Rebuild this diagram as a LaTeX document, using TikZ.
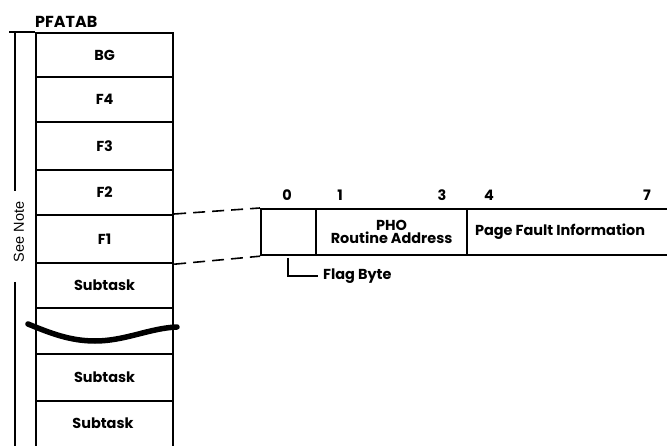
\documentclass[tikz,border=0pt]{standalone}
\usepackage{fontspec}
\setmainfont{Poppins}
\newfontfamily\notefont{Liberation Sans}
\begin{document}
\begin{tikzpicture}[x=1bp,y=-1bp,
  ln/.style={line width=2.2bp},
  tf/.style={font=\fontsize{14.5}{14}\selectfont\bfseries},
  row/.style={draw, line width=2.2bp, minimum width=137bp, inner sep=0pt, tf, anchor=north west},
  fld/.style={draw, line width=2.2bp, inner sep=0pt, anchor=north west, minimum height=46bp, tf, align=center},
  lbl/.style={tf, inner sep=0pt}]
\useasboundingbox (0,0) rectangle (667,446);
\clip (0,0) rectangle (667,446);
\fill[white] (0,0) rectangle (667,446);
% table rows
\node[row, minimum height=44bp] (bg) at (35,32) {BG};
\node[row, minimum height=45bp] (f4) at (35,76) {F4};
\node[row, minimum height=48bp] (f3) at (35,121) {F3};
\node[row, minimum height=45bp] (f2) at (35,169) {F2};
\node[row, minimum height=48bp] (f1) at (35,214) {F1};
\node[row, minimum height=45bp] (s1) at (35,262) {Subtask};
\node[row, minimum height=46bp] (gap) at (35,307) {};
\node[row, minimum height=47bp] (s2) at (35,353) {Subtask};
\node[row, minimum height=60bp] (s3) at (35,400) {};
\node[lbl] (s3t) at (103,423) {Subtask};
% label
\node[lbl, anchor=south west, font=\fontsize{16}{16}\selectfont\bfseries] (pfatab) at (35,27.5) {PFATAB};
% bracket
\coordinate (bt) at (9,32);
\coordinate (bv) at (15,32);
\draw[ln] (bt) -- (bg.north west);
\node[inner sep=0pt, rotate=90, font=\fontsize{14.5}{14}\notefont] (note) at (19,232) {See Note};
\draw[ln] (bv) -- (15,191);
\draw[ln] (15,282) -- (15,446);
% break wave
\draw[line width=5.5bp, line cap=round] (28,324) .. controls (50,333) and (70,341) .. (95,341)
  .. controls (125,341) and (150,328) .. (177,327);
% record
\node[fld, minimum width=55bp] (flag) at (260,208) {};
\node[fld, minimum width=151bp, font=\fontsize{14.5}{13.5}\selectfont\bfseries] (pho) at (315,208) {PHO\\Routine Address};
\node[fld, minimum width=240bp] (pfi) at (466,208) {Page Fault Information\hspace{54bp}};
% dashed connectors
\draw[line width=1.6bp, dash pattern=on 12bp off 7bp] (f1.north east) -- (flag.north west);
\draw[line width=1.6bp, dash pattern=on 12bp off 7bp] (f1.south east) -- (flag.south west);
% byte numbers
\node[lbl] (n0) at (287,195) {0};
\node[lbl] (n1) at (340,195) {1};
\node[lbl] (n3) at (442,195) {3};
\node[lbl] (n4) at (489,195) {4};
\node[lbl] (n7) at (647,195) {7};
% flag byte
\node[lbl, anchor=west, inner xsep=5bp] (fb) at (318,276) {Flag Byte};
\coordinate (fbs) at (288,258);
\draw[line width=1.6bp] (fbs) |- (fb.west);
\end{tikzpicture}
\end{document}
